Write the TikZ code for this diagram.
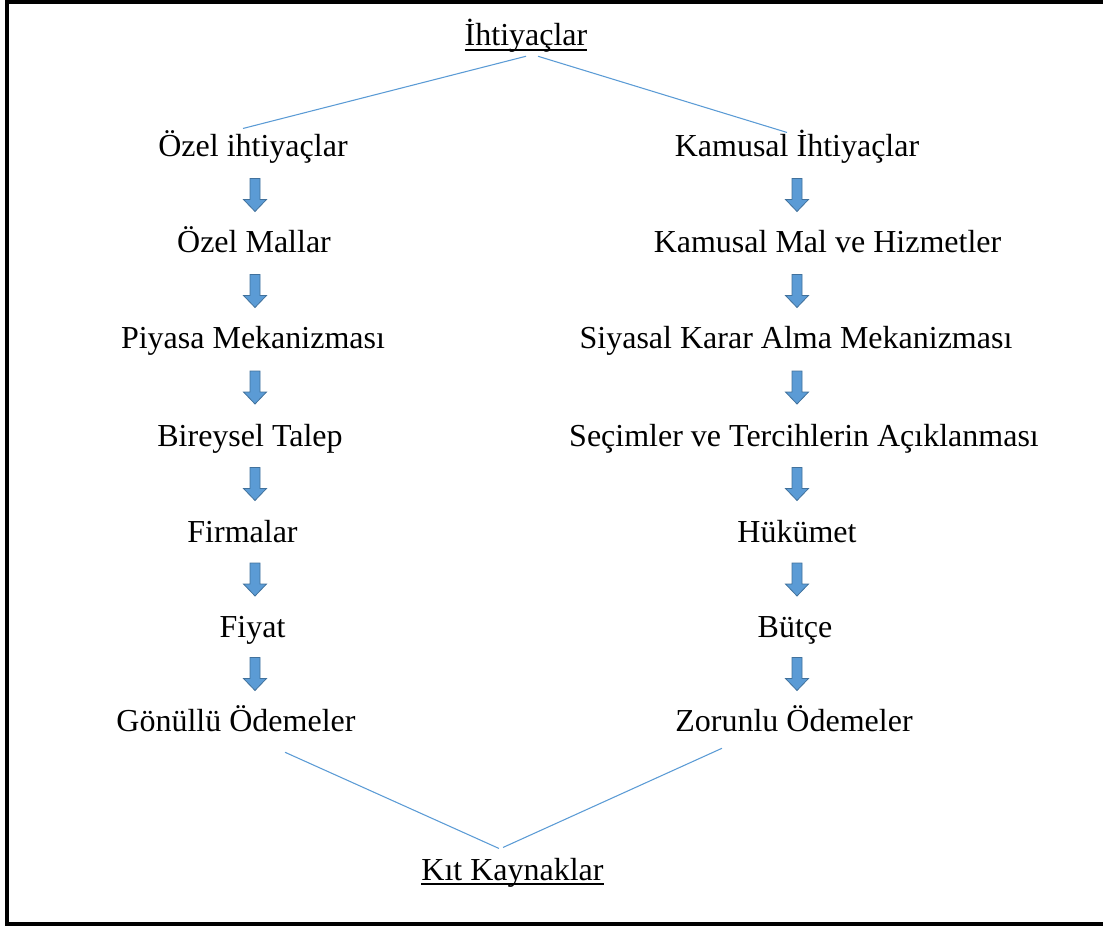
\documentclass[tikz,border=0pt]{standalone}
\usepackage{fontspec}
\setmainfont{Liberation Serif}
\usetikzlibrary{calc}
\definecolor{flowblue}{HTML}{5B9BD5}
\definecolor{flowedge}{HTML}{41719C}
\newcommand{\ulined}[1]{\setbox0=\hbox{#1}\rlap{\rule[-3.6pt]{\wd0}{1.3pt}}\box0}

\tikzset{
  downarrow/.pic={
    \filldraw[fill=flowblue, draw=flowedge, line width=0.6pt]
      (-5,-16.5) -- (5,-16.5) -- (5,4.5) -- (11.5,4.5) -- (0,16.5)
      -- (-11.5,4.5) -- (-5,4.5) -- cycle;
  }
}

\begin{document}
\begin{tikzpicture}[x=0.75pt, y=-0.75pt,
    every node/.style={font=\fontsize{24}{28}\selectfont, inner sep=0pt,
      text height=17pt, text depth=6pt, anchor=base},
    link/.style={flowblue, line width=0.8pt}]

  \useasboundingbox (0,0) rectangle (1103,927);
  \draw[line width=2.4pt] (1110,2) -- (7,2) -- (7,924) -- (1110,924);

  % columns for the block arrows
  \coordinate (L) at (255,0);
  \coordinate (R) at (797,0);

  \node (top) at (526,46) {\ulined{İhtiyaçlar}};

  % left column
  \node (l1) at (253,157) {Özel ihtiyaçlar};
  \node (l2) at (254,253) {Özel Mallar};
  \node (l3) at (253,349) {Piyasa Mekanizması};
  \node (l4) at (250,446) {Bireysel Talep};
  \node (l5) at (242.5,542) {Firmalar};
  \node (l6) at (252.5,637) {Fiyat};
  \node (l7) at (236,731) {Gönüllü Ödemeler};

  % right column
  \node (r1) at (797,157) {Kamusal İhtiyaçlar};
  \node (r2) at (827.5,253) {Kamusal Mal ve Hizmetler};
  \node (r3) at (796,349) {Siyasal Karar Alma Mekanizması};
  \node (r4) at (804,446) {Seçimler ve Tercihlerin Açıklanması};
  \node (r5) at (797,542) {Hükümet};
  \node (r6) at (795,637) {Bütçe};
  \node (r7) at (794,731) {Zorunlu Ödemeler};

  \node (bottom) at (512.5,880) {\ulined{Kıt Kaynaklar}};

  \foreach \i [count=\j from 2] in {1,...,6} {
    \path (l\i) -- (l\j) coordinate[midway] (ml\i);
    \pic[yshift=2pt] at (ml\i -| L) {downarrow};
    \path (r\i) -- (r\j) coordinate[midway] (mr\i);
    \pic[yshift=2pt] at (mr\i -| R) {downarrow};
  }

  \draw[link] ($(top.south)+(0,2)$) -- ($(l1.north)+(-10,-5.6)$);
  \draw[link] ($(top.south)+(12,2)$) -- ($(r1.north)+(-10,-1.6)$);
  \draw[link] ($(l7.south)+(49,13)$) -- ($(bottom.north)+(-13.5,-8.6)$);
  \draw[link] ($(r7.south)+(-72,9)$) -- ($(bottom.north)+(-9.5,-9.6)$);
\end{tikzpicture}
\end{document}
